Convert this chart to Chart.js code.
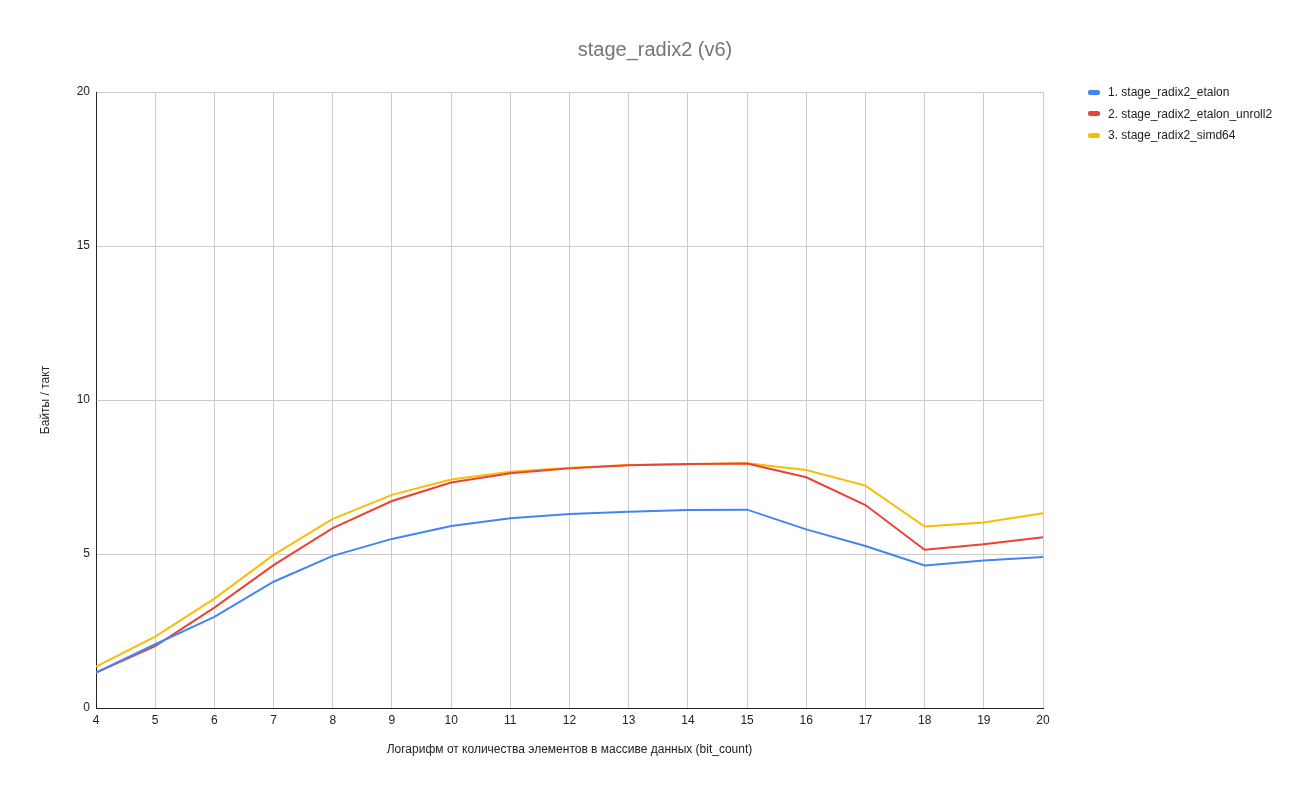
<!DOCTYPE html>
<html>
<head>
<meta charset="utf-8">
<script src="https://cdn.jsdelivr.net/npm/chart.js"></script>
<style>
  body { margin: 0; background: #fff; font-family: "Liberation Sans", Arial, sans-serif; }
  #wrap { position: relative; width: 1300px; height: 795px; }
  #title { position: absolute; left: 0; width: 1310px; top: 37px; text-align: center; font-size: 20px; color: #757575; line-height: 24px; }
  #legend { position: absolute; left: 1088px; top: 81.5px; font-size: 12px; color: #222; }
  .item { height: 21.5px; display: flex; align-items: center; }
  .swatch { width: 12px; height: 5px; border-radius: 2px; margin-right: 8px; }
</style>
</head>
<body>
<div id="wrap">
  <canvas id="chart" width="1300" height="795"></canvas>
  <div id="title">stage_radix2 (v6)</div>
  <div id="legend"></div>
</div>
<script>
  // bit_count on the x axis
  const bitCounts = [4, 5, 6, 7, 8, 9, 10, 11, 12, 13, 14, 15, 16, 17, 18, 19, 20];

  const etalon = [1.15, 2.07, 2.96, 4.10, 4.94, 5.49, 5.91, 6.16, 6.30, 6.37, 6.43, 6.44, 5.80, 5.26, 4.63, 4.79, 4.90];
  const etalonUnroll2 = [1.15, 2.01, 3.26, 4.64, 5.84, 6.72, 7.32, 7.62, 7.78, 7.88, 7.92, 7.94, 7.49, 6.59, 5.14, 5.32, 5.54];
  const simd64 = [1.34, 2.32, 3.55, 4.97, 6.14, 6.92, 7.42, 7.67, 7.80, 7.89, 7.91, 7.95, 7.73, 7.22, 5.89, 6.02, 6.32];

  const seriesNames = ['1. stage_radix2_etalon', '2. stage_radix2_etalon_unroll2', '3. stage_radix2_simd64'];
  const seriesColors = ['#4285F4', '#EA4335', '#FBBC04'];
  const seriesValues = [etalon, etalonUnroll2, simd64];

  const yTicks = [0, 5, 10, 15, 20];

  const datasets = seriesValues.map((vals, i) => ({
    label: seriesNames[i],
    data: vals.map((v, j) => ({ x: bitCounts[j], y: v })),
    borderColor: seriesColors[i],
    backgroundColor: seriesColors[i],
    borderWidth: 2,
    pointRadius: 0,
    tension: 0
  }));

  // legend built from the series arrays
  const legend = document.getElementById('legend');
  seriesNames.forEach((name, i) => {
    const row = document.createElement('div');
    row.className = 'item';
    row.innerHTML = '<span class="swatch" style="background:' + seriesColors[i] + '"></span>' + name;
    legend.appendChild(row);
  });

  Chart.defaults.font.family = '"Liberation Sans", Arial, sans-serif';
  Chart.defaults.font.size = 12;
  Chart.defaults.color = '#222';

  new Chart(document.getElementById('chart').getContext('2d'), {
    type: 'line',
    data: { datasets },
    options: {
      responsive: false,
      animation: false,
      layout: { padding: { left: 0, right: 257, top: 92, bottom: 0 } },
      plugins: {
        legend: { display: false },
        tooltip: { enabled: false },
        title: { display: false }
      },
      scales: {
        x: {
          type: 'linear',
          min: 4,
          max: 20,
          ticks: { stepSize: 1, padding: 5, color: '#222' },
          grid: { color: '#cccccc', drawTicks: false },
          border: { color: '#222', width: 1 },
          title: {
            display: true,
            text: 'Логарифм от количества элементов в массиве данных (bit_count)',
            color: '#222',
            padding: { top: 0, bottom: 38 }
          },
          afterFit: s => { s.height = 87; }
        },
        y: {
          min: 0,
          max: 20,
          afterBuildTicks: s => { s.ticks = yTicks.map(v => ({ value: v })); },
          ticks: { padding: 6, color: '#222' },
          grid: { color: '#cccccc', drawTicks: false },
          border: { color: '#222', width: 1 },
          title: {
            display: true,
            text: 'Байты / такт',
            color: '#222',
            padding: { top: 38, bottom: 0 }
          },
          afterFit: s => { s.width = 96; }
        }
      }
    }
  });
</script>
</body>
</html>
